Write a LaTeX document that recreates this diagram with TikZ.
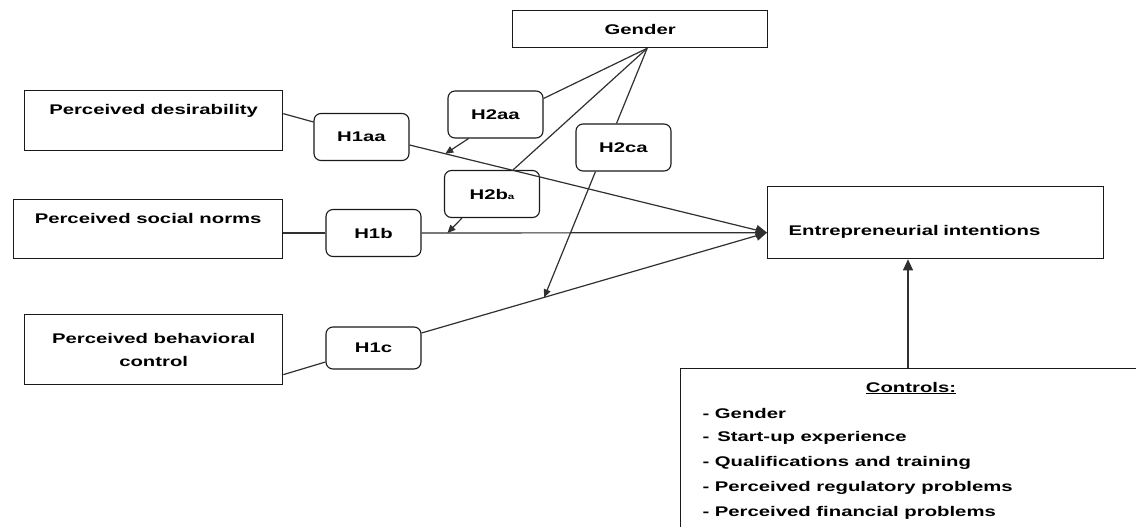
\documentclass[tikz,border=0pt]{standalone}
\usepackage{fontspec}
\setmainfont{Liberation Sans}[FakeStretch=1.45]
\usepackage{tikz}
\usetikzlibrary{positioning,arrows.meta,calc}
\definecolor{boxline}{HTML}{1A1A1A}
\definecolor{linkgray}{HTML}{303030}

\begin{document}
\begin{tikzpicture}[x=1pt, y=-1pt,
    every node/.style={font=\fontsize{14}{17}\selectfont\bfseries},
    varbox/.style={draw=boxline, line width=1.3pt, inner sep=0pt,
                   anchor=north west, align=center},
    hypbox/.style={draw=boxline, line width=1.1pt, rounded corners=7pt,
                   minimum width=95, minimum height=47, inner sep=0pt},
    link/.style={linkgray, line width=1.2pt},
    effect/.style={link, -{Triangle[length=11pt,width=10pt]}},
    moder/.style={link, -{Triangle[length=8pt,width=7pt]}},
]
\fill[white] (0,0) rectangle (1136,527);
\useasboundingbox (0,0) rectangle (1136,527);

% constructs
\node[varbox, minimum width=255, minimum height=37] (gender) at (512,10) {Gender};
\node[varbox, minimum width=258, text height=24pt, text depth=36pt] (desir) at (24,90)
    {Perceived desirability};
\node[varbox, minimum width=269, text height=24pt, text depth=35pt] (norms) at (13,199)
    {Perceived social norms};
\node[varbox, minimum width=258, minimum height=70] (control) at (24,314)
    {Perceived behavioral\\[6pt]control};
\node[varbox, align=left, text width=294pt, inner xsep=21pt,
      text height=49pt, text depth=23pt] (intent) at (767,186)
    {Entrepreneurial intentions};
\node[varbox, minimum width=470, minimum height=180] (controls) at (680,368) {};

% hypotheses
\node[hypbox] (h1a) at (361.5,137) {H1aa};
\node[hypbox] (h1b) at (373.5,233) {H1b};
\node[hypbox, minimum height=42] (h1c) at (373.5,348) {H1c};
\node[hypbox] (h2a) at (495.5,114.5) {H2aa};
\node[hypbox] (h2b) at (492,194) {H2b{\footnotesize a}};
\node[hypbox] (h2c) at (623.5,147.5) {H2ca};

% controls list
\node (ctrlhead) at (911,388) {\underline{Controls:}};
\node[anchor=west] (c1) at (699,413) {- Gender};
\node[anchor=west] (c2) at (699,438) {-\ \,Start-up experience};
\node[anchor=west] (c3) at (699,463) {- Qualifications and training};
\node[anchor=west] (c4) at (699,488) {- Perceived regulatory problems};
\node[anchor=west] (c5) at (699,513) {- Perceived financial problems};

% direct effects
\coordinate (ein) at ($(intent.west)+(0,10)$);
\coordinate (h1aout) at ($(h1a.east)+(0,8)$);
\coordinate (h1cout) at ($(h1c.east)+(0,-15)$);
\draw[link] ($(desir.east)+(0,-7)$) -- ($(h1a.west)+(0,-15)$);
\draw[effect] (h1aout) -- (ein);
\draw[link] (h1b.west -| norms.east) -- (h1b.west);
\draw[effect] (h1b.east) -- (ein);
\draw[link] ($(control.east)+(0,25)$) -- ($(h1c.west)+(0,14)$);
\draw[effect] (h1cout) -- (ein);

% moderation by gender
\coordinate (fan) at ($(gender.south)+(7,0)$);
\draw[link] (fan) -- ($(h2a.east)+(0,-16)$);
\draw[link] (fan) -- ($(h2b.north)+(21,0)$);
\draw[link] (fan) -- ($(h2c.north)+(-7,0)$);
\draw[moder] ($(h2a.south)+(-27,0)$) -- ($(h1aout)!0.1!(ein)$);
\draw[moder] ($(h2b.south)+(-30,0)$) -- ($(h1b.east)!0.075!(ein)$);
\draw[moder] ($(h2c.south)+(-28,0)$) -- ($(h1cout)!0.355!(ein)$);

% controls
\coordinate (ctop) at ($(controls.north west)+(228,0)$);
\draw[effect] (ctop) -- (ctop |- intent.south);
\end{tikzpicture}
\end{document}
